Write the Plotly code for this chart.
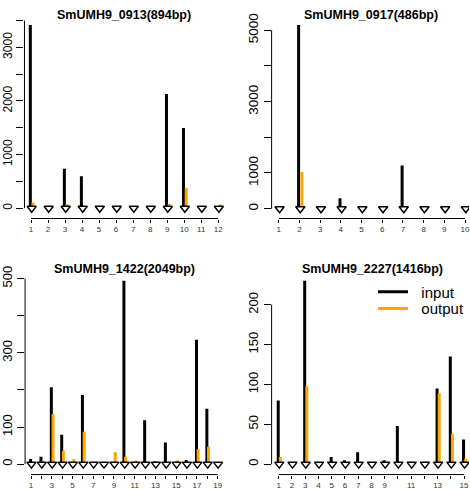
import plotly.graph_objects as go

# ---------------- data ----------------
titles = ["SmUMH9_0913(894bp)", "SmUMH9_0917(486bp)", "SmUMH9_1422(2049bp)", "SmUMH9_2227(1416bp)"]

input_0913 = [3416, 5, 737, 596, 5, 5, 5, 5, 2131, 1495, 5, 5]
output_0913 = [107, 15, 75, 30, 45, 30, 25, 25, 80, 382, 20, 70]

input_0917 = [5, 5150, 5, 295, 5, 5, 1210, 5, 5, 5]
output_0917 = [25, 1030, 25, 65, 20, 20, 40, 20, 20, 20]

input_1422 = [14, 20, 207, 79, 3, 186, 4, 4, 0, 494, 4, 118, 7, 58, 4, 11, 335, 149, 4]
output_1422 = [4, 7, 135, 36, 13, 87, 4, 4, 32, 20, 10, 4, 4, 4, 10, 5, 40, 47, 4]

input_2227 = [80, 0, 230, 2, 9, 5, 15, 2, 5, 48, 3, 1, 95, 135, 31]
output_2227 = [9, 2, 98, 1, 1, 1, 1, 1, 1, 1, 2, 4, 89, 38, 7]

ytick_0913 = [0, 500, 1000, 1500, 2000, 2500, 3000, 3500]
ylab_0913 = ["0", "", "1000", "", "2000", "", "3000", ""]
ytick_0917 = [0, 1000, 2000, 3000, 4000, 5000]
ylab_0917 = ["0", "1000", "", "3000", "", "5000"]
ytick_1422 = [0, 100, 200, 300, 400, 500]
ylab_1422 = ["0", "100", "", "300", "", "500"]
ytick_2227 = [0, 50, 100, 150, 200]
ylab_2227 = ["0", "50", "100", "150", "200"]

xlab_0913 = [str(i) for i in range(1, 13)]
xlab_0917 = [str(i) for i in range(1, 11)]
xlab_1422 = [str(i) if i % 2 == 1 else "" for i in range(1, 20)]
xlab_2227 = ["1", "2", "3", "4", "5", "6", "7", "8", "9", "", "11", "", "13", "", "15"]

legend_names = ["input", "output"]

series_in = [input_0913, input_0917, input_1422, input_2227]
series_out = [output_0913, output_0917, output_1422, output_2227]
yticks = [ytick_0913, ytick_0917, ytick_1422, ytick_2227]
ylabs = [ylab_0913, ylab_0917, ylab_1422, ylab_2227]
xlabs = [xlab_0913, xlab_0917, xlab_1422, xlab_2227]

# ---------------- layout geometry (pixels) ----------------
W, H = 470, 490
# (x pixel of category 1, px per category, left, right, y pixel of 0, px per unit, top, bottom, ylabel font, title center x, title y)
geom = [
    (27.3, 17.2, 20.7, 223, 203.5, 0.0545, 8, 214, 12, 121, 7),
    (277.7, 20.92, 270.5, 470, 204.0, 0.03627, 8, 214, 13.5, 371, 7),
    (27.3, 10.48, 21.3, 223, 463.7, 0.3773, 270, 474.3, 13, 122, 265.5),
    (277.7, 13.38, 270.5, 470, 463.7, 0.81, 270, 474.3, 13, 372, 265),
]

FONT = "Liberation Sans, Arial, Helvetica, sans-serif"
ORANGE = "#FFA500"

fig = go.Figure()
leg_common = dict(xanchor="left", yanchor="top", bgcolor="rgba(0,0,0,0)",
                  font=dict(size=15, family=FONT, color="black"), itemwidth=30)
layout = dict(
    width=W, height=H, margin=dict(l=0, r=0, t=0, b=0),
    paper_bgcolor="white", plot_bgcolor="white",
    font=dict(family=FONT, color="black"),
    showlegend=True, hovermode=False,
    legend=dict(x=373 / W, y=1 - 272 / H, **leg_common),
    legend2=dict(x=373 / W, y=1 - 289 / H, **leg_common),
)
shapes = []
annotations = []

for k in range(4):
    p1, xs, left, right, y0p, ys, top, bottom, yfs, tcx, tcy = geom[k]
    n = len(series_in[k])
    cats = list(range(1, n + 1))
    sfx = "" if k == 0 else str(k + 1)
    xa, ya = "x" + sfx, "y" + sfx

    xr = [1 + (left - p1) / xs, 1 + (right - p1) / xs]
    yr = [(y0p - bottom) / ys, (y0p - top) / ys]

    layout["xaxis" + sfx] = dict(
        domain=[left / W, right / W], range=xr, anchor=ya,
        tickmode="array", tickvals=cats, ticktext=xlabs[k],
        ticks="outside", ticklen=3, tickwidth=1, tickcolor="black",
        showline=False, showgrid=False, zeroline=False, ticklabeloverflow="allow",
        tickfont=dict(size=8, color="#333333", family=FONT), tickangle=0,
    )
    layout["yaxis" + sfx] = dict(
        domain=[1 - bottom / H, 1 - top / H], range=yr, anchor=xa,
        tickmode="array", tickvals=yticks[k], ticktext=ylabs[k],
        ticks="outside", ticklen=7, tickwidth=1, tickcolor="black",
        showline=False, showgrid=False, zeroline=False, ticklabeloverflow="allow",
        tickfont=dict(size=yfs, color="black", family=FONT), tickangle=-90,
    )

    # R-style axis lines spanning first..last tick
    shapes.append(dict(type="line", xref=xa + " domain", yref=ya, x0=0, x1=0,
                       y0=yticks[k][0], y1=yticks[k][-1], line=dict(color="black", width=1)))
    shapes.append(dict(type="line", xref=xa, yref=ya + " domain", x0=cats[0], x1=cats[-1],
                       y0=0, y1=0, line=dict(color="black", width=1)))

    # spike lines (type = "h")
    bx, by = [], []
    for c, v in zip(cats, series_in[k]):
        bx += [c - 0.04, c - 0.04, None]
        by += [0, v, None]
    ox, oy = [], []
    for c, v in zip(cats, series_out[k]):
        ox += [c + 0.12, c + 0.12, None]
        oy += [0, v, None]

    fig.add_trace(go.Scatter(x=bx, y=by, mode="lines", xaxis=xa, yaxis=ya,
                             line=dict(color="black", width=3),
                             name="\u00a0\u00a0" + legend_names[0], legend="legend",
                             showlegend=(k == 3), hoverinfo="skip"))
    fig.add_trace(go.Scatter(x=ox, y=oy, mode="lines", xaxis=xa, yaxis=ya,
                             line=dict(color=ORANGE, width=3),
                             name="\u00a0\u00a0" + legend_names[1], legend="legend2",
                             showlegend=(k == 3), hoverinfo="skip"))
    fig.add_trace(go.Scatter(x=[c + 0.04 for c in cats], y=[0] * n, mode="markers",
                             xaxis=xa, yaxis=ya, showlegend=False, hoverinfo="skip",
                             marker=dict(symbol="triangle-down", size=8, color="white",
                                         line=dict(color="black", width=1.5))))

    annotations.append(dict(text="<b>%s</b>" % titles[k], xref="paper", yref="paper",
                            x=tcx / W, y=1 - tcy / H, xanchor="center", yanchor="middle",
                            showarrow=False, font=dict(size=12.5, family=FONT, color="black")))

layout["shapes"] = shapes
layout["annotations"] = annotations
fig.update_layout(**layout)
fig.write_html(
    "out.html",
    config={"displayModeBar": False, "staticPlot": True},
    post_script=(
        "document.documentElement.style.margin='0';"
        "document.body.style.margin='0';document.body.style.padding='0';"
        "document.body.style.overflow='hidden';"
        "var d=document.getElementById('{plot_id}');"
        "d.style.position='absolute';d.style.left='0px';d.style.top='0px';"
    ),
)
